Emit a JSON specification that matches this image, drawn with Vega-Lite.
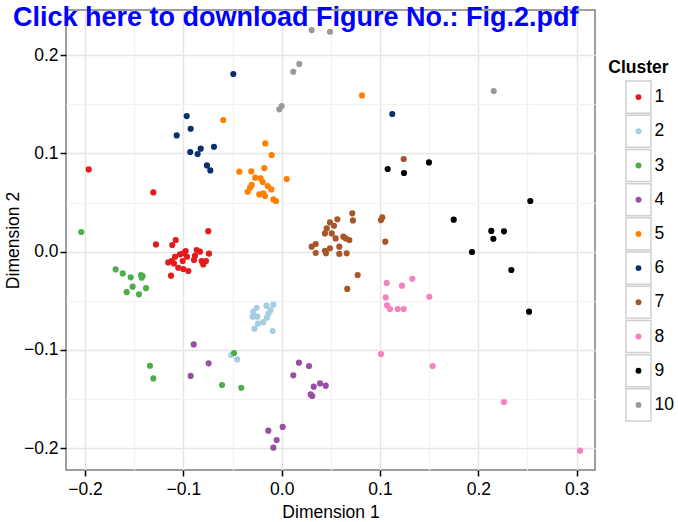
{
  "$schema": "https://vega.github.io/schema/vega-lite/v6.json",
  "autosize": {"type": "pad"},
  "padding": {"left": 3, "top": 4, "right": 0, "bottom": 0},
  "title": {"text": "Click here to download Figure No.: Fig.2.pdf", "anchor": "start", "frame": "group", "dx": -53, "offset": -44, "baseline": "alphabetic", "fontSize": 27, "fontWeight": "bold", "color": "#0000FF", "font": "Liberation Sans"},
  "config": {"font": "Liberation Sans", "view": {"stroke": null}},
  "spacing": 31,
  "bounds": "flush",
  "datasets": {
    "pts": [
      {"x": -0.1963, "y": 0.0837, "c": "1"}, {"x": -0.1306, "y": 0.0603, "c": "1"}, {"x": -0.0747, "y": 0.0209, "c": "1"},
      {"x": -0.1279, "y": 0.0074, "c": "1"}, {"x": -0.1078, "y": 0.0119, "c": "1"}, {"x": -0.1113, "y": 0.0068, "c": "1"},
      {"x": -0.1035, "y": -0.0027, "c": "1"}, {"x": -0.1001, "y": -0.0017, "c": "1"}, {"x": -0.0977, "y": 0.0007, "c": "1"},
      {"x": -0.0963, "y": -0.0051, "c": "1"}, {"x": -0.0865, "y": 0.0017, "c": "1"}, {"x": -0.0831, "y": 0.0, "c": "1"},
      {"x": -0.074, "y": -0.002, "c": "1"}, {"x": -0.0882, "y": -0.0041, "c": "1"}, {"x": -0.0892, "y": -0.0084, "c": "1"},
      {"x": -0.0814, "y": -0.0095, "c": "1"}, {"x": -0.077, "y": -0.0095, "c": "1"}, {"x": -0.0798, "y": -0.0129, "c": "1"},
      {"x": -0.1085, "y": -0.0051, "c": "1"}, {"x": -0.1119, "y": -0.0095, "c": "1"}, {"x": -0.1154, "y": -0.0109, "c": "1"},
      {"x": -0.1096, "y": -0.0119, "c": "1"}, {"x": -0.1007, "y": -0.0095, "c": "1"}, {"x": -0.1052, "y": -0.0163, "c": "1"},
      {"x": -0.1001, "y": -0.0176, "c": "1"}, {"x": -0.095, "y": -0.0196, "c": "1"}, {"x": -0.1126, "y": -0.0244, "c": "1"},
      {"x": -0.0254, "y": -0.057, "c": "2"}, {"x": -0.0289, "y": -0.061, "c": "2"}, {"x": -0.0295, "y": -0.0661, "c": "2"},
      {"x": -0.0248, "y": -0.0661, "c": "2"}, {"x": -0.0155, "y": -0.0549, "c": "2"}, {"x": -0.0085, "y": -0.0539, "c": "2"},
      {"x": -0.0114, "y": -0.0595, "c": "2"}, {"x": -0.0136, "y": -0.0631, "c": "2"}, {"x": -0.015, "y": -0.0671, "c": "2"},
      {"x": -0.0187, "y": -0.0717, "c": "2"}, {"x": -0.0241, "y": -0.0732, "c": "2"}, {"x": -0.0277, "y": -0.0783, "c": "2"},
      {"x": -0.0092, "y": -0.0807, "c": "2"}, {"x": -0.0513, "y": -0.1051, "c": "2"}, {"x": -0.0452, "y": -0.1096, "c": "2"},
      {"x": -0.2039, "y": 0.02, "c": "3"}, {"x": -0.1689, "y": -0.018, "c": "3"}, {"x": -0.1617, "y": -0.0221, "c": "3"},
      {"x": -0.1536, "y": -0.0261, "c": "3"}, {"x": -0.1431, "y": -0.0237, "c": "3"}, {"x": -0.1414, "y": -0.0247, "c": "3"},
      {"x": -0.1424, "y": -0.0264, "c": "3"}, {"x": -0.1516, "y": -0.0356, "c": "3"}, {"x": -0.1577, "y": -0.0412, "c": "3"},
      {"x": -0.1452, "y": -0.0434, "c": "3"}, {"x": -0.138, "y": -0.0371, "c": "3"}, {"x": -0.134, "y": -0.116, "c": "3"},
      {"x": -0.1306, "y": -0.1289, "c": "3"}, {"x": -0.0607, "y": -0.1356, "c": "3"}, {"x": -0.0411, "y": -0.1384, "c": "3"},
      {"x": -0.0485, "y": -0.1031, "c": "3"},
      {"x": -0.0895, "y": -0.0943, "c": "4"}, {"x": -0.0743, "y": -0.1136, "c": "4"}, {"x": -0.0926, "y": -0.1264, "c": "4"},
      {"x": 0.0176, "y": -0.1129, "c": "4"}, {"x": 0.0278, "y": -0.1163, "c": "4"}, {"x": 0.0118, "y": -0.1258, "c": "4"},
      {"x": 0.039, "y": -0.134, "c": "4"}, {"x": 0.0448, "y": -0.1363, "c": "4"}, {"x": 0.0326, "y": -0.1373, "c": "4"},
      {"x": 0.0295, "y": -0.1452, "c": "4"}, {"x": 0.0311, "y": -0.1468, "c": "4"}, {"x": 0.001, "y": -0.1783, "c": "4"},
      {"x": -0.0136, "y": -0.1821, "c": "4"}, {"x": -0.0051, "y": -0.1916, "c": "4"}, {"x": -0.0085, "y": -0.1994, "c": "4"},
      {"x": -0.0594, "y": 0.134, "c": "5"}, {"x": -0.0167, "y": 0.1102, "c": "5"}, {"x": -0.0102, "y": 0.0984, "c": "5"},
      {"x": -0.0177, "y": 0.0851, "c": "5"}, {"x": -0.0431, "y": 0.0814, "c": "5"}, {"x": -0.0309, "y": 0.0817, "c": "5"},
      {"x": 0.0051, "y": 0.074, "c": "5"}, {"x": -0.0269, "y": 0.0753, "c": "5"}, {"x": -0.0214, "y": 0.0746, "c": "5"},
      {"x": -0.0193, "y": 0.0709, "c": "5"}, {"x": -0.0142, "y": 0.0668, "c": "5"}, {"x": -0.0106, "y": 0.0634, "c": "5"},
      {"x": -0.0305, "y": 0.0679, "c": "5"}, {"x": -0.0322, "y": 0.0651, "c": "5"}, {"x": -0.0346, "y": 0.061, "c": "5"},
      {"x": -0.0228, "y": 0.0583, "c": "5"}, {"x": -0.0187, "y": 0.0593, "c": "5"}, {"x": -0.017, "y": 0.0567, "c": "5"},
      {"x": -0.0085, "y": 0.0532, "c": "5"}, {"x": -0.0058, "y": 0.0516, "c": "5"}, {"x": 0.0817, "y": 0.159, "c": "5"},
      {"x": -0.0492, "y": 0.1808, "c": "6"}, {"x": -0.0966, "y": 0.138, "c": "6"}, {"x": -0.0926, "y": 0.1251, "c": "6"},
      {"x": -0.1068, "y": 0.1183, "c": "6"}, {"x": -0.093, "y": 0.1014, "c": "6"}, {"x": -0.0824, "y": 0.1048, "c": "6"},
      {"x": -0.0855, "y": 0.0994, "c": "6"}, {"x": -0.0689, "y": 0.1068, "c": "6"}, {"x": -0.076, "y": 0.0878, "c": "6"},
      {"x": -0.0726, "y": 0.0827, "c": "6"}, {"x": 0.1125, "y": 0.1401, "c": "6"},
      {"x": 0.1241, "y": 0.0943, "c": "7"}, {"x": 0.0718, "y": 0.039, "c": "7"}, {"x": 0.0725, "y": 0.0318, "c": "7"},
      {"x": 0.1023, "y": 0.0349, "c": "7"}, {"x": 0.101, "y": 0.0322, "c": "7"}, {"x": 0.1054, "y": 0.0102, "c": "7"},
      {"x": 0.0566, "y": 0.0329, "c": "7"}, {"x": 0.0491, "y": 0.0298, "c": "7"}, {"x": 0.0532, "y": 0.0264, "c": "7"},
      {"x": 0.0458, "y": 0.0237, "c": "7"}, {"x": 0.044, "y": 0.0186, "c": "7"}, {"x": 0.0509, "y": 0.0186, "c": "7"},
      {"x": 0.0549, "y": 0.0135, "c": "7"}, {"x": 0.0627, "y": 0.0153, "c": "7"}, {"x": 0.0651, "y": 0.0135, "c": "7"},
      {"x": 0.0688, "y": 0.0119, "c": "7"}, {"x": 0.0586, "y": 0.0051, "c": "7"}, {"x": 0.0346, "y": 0.0078, "c": "7"},
      {"x": 0.0305, "y": 0.0051, "c": "7"}, {"x": 0.0346, "y": -0.0013, "c": "7"}, {"x": 0.044, "y": 0.001, "c": "7"},
      {"x": 0.0491, "y": 0.0034, "c": "7"}, {"x": 0.0451, "y": -0.0017, "c": "7"}, {"x": 0.0586, "y": -0.0023, "c": "7"},
      {"x": 0.0661, "y": -0.0017, "c": "7"}, {"x": 0.0773, "y": -0.0237, "c": "7"}, {"x": 0.0667, "y": -0.0379, "c": "7"},
      {"x": 0.1068, "y": -0.0318, "c": "8"}, {"x": 0.1224, "y": -0.0346, "c": "8"}, {"x": 0.1329, "y": -0.0275, "c": "8"},
      {"x": 0.1058, "y": -0.0465, "c": "8"}, {"x": 0.1502, "y": -0.0458, "c": "8"}, {"x": 0.1071, "y": -0.0546, "c": "8"},
      {"x": 0.1102, "y": -0.0583, "c": "8"}, {"x": 0.118, "y": -0.0583, "c": "8"}, {"x": 0.1241, "y": -0.0583, "c": "8"},
      {"x": 0.101, "y": -0.1041, "c": "8"}, {"x": 0.1536, "y": -0.1163, "c": "8"}, {"x": 0.2261, "y": -0.1529, "c": "8"},
      {"x": 0.3035, "y": -0.2024, "c": "8"},
      {"x": 0.1078, "y": 0.0841, "c": "9"}, {"x": 0.1244, "y": 0.0801, "c": "9"}, {"x": 0.1498, "y": 0.0908, "c": "9"},
      {"x": 0.2529, "y": 0.0516, "c": "9"}, {"x": 0.175, "y": 0.0326, "c": "9"}, {"x": 0.2132, "y": 0.0211, "c": "9"},
      {"x": 0.2261, "y": 0.0207, "c": "9"}, {"x": 0.2153, "y": 0.0132, "c": "9"}, {"x": 0.1936, "y": -0.0003, "c": "9"},
      {"x": 0.2336, "y": -0.0186, "c": "9"}, {"x": 0.2516, "y": -0.061, "c": "9"},
      {"x": 0.0305, "y": 0.2255, "c": "10"}, {"x": 0.0491, "y": 0.2238, "c": "10"}, {"x": 0.0179, "y": 0.1909, "c": "10"},
      {"x": 0.0118, "y": 0.1831, "c": "10"}, {"x": 0.0, "y": 0.1482, "c": "10"}, {"x": -0.0024, "y": 0.1448, "c": "10"},
      {"x": 0.2157, "y": 0.1635, "c": "10"}
    ],
    "cl": [
      {"c": "1"}, {"c": "2"}, {"c": "3"}, {"c": "4"}, {"c": "5"}, {"c": "6"}, {"c": "7"}, {"c": "8"}, {"c": "9"}, {"c": "10"}
    ],
    "hdr": [{"t": "Cluster"}]
  },
  "hconcat": [
    {
      "width": 529,
      "height": 460,
      "data": {"name": "pts"},
      "view": {"stroke": "#7F7F7F", "strokeWidth": 1.5},
      "layer": [
        {
          "mark": {"type": "point", "opacity": 0},
          "encoding": {
            "x": {"field": "x", "type": "quantitative", "scale": {"domain": [-0.2194, 0.3187], "nice": false, "zero": false},
              "axis": {"orient": "top", "values": [-0.15, -0.05, 0.05, 0.15, 0.25], "grid": true, "gridColor": "#F2F2F2", "gridWidth": 1.2, "labels": false, "ticks": false, "domain": false, "title": null, "minExtent": 0, "maxExtent": 0}},
            "y": {"field": "y", "type": "quantitative", "scale": {"domain": [-0.2221, 0.2459], "nice": false, "zero": false},
              "axis": {"orient": "right", "values": [-0.15, -0.05, 0.05, 0.15], "grid": true, "gridColor": "#F2F2F2", "gridWidth": 1.2, "labels": false, "ticks": false, "domain": false, "title": null, "minExtent": 0, "maxExtent": 0}}
          }
        },
        {
          "mark": {"type": "circle", "size": 38, "opacity": 1},
          "encoding": {
            "x": {"field": "x", "type": "quantitative", "scale": {"domain": [-0.2194, 0.3187], "nice": false, "zero": false},
              "axis": {"orient": "bottom", "values": [-0.2, -0.1, 0, 0.1, 0.2, 0.3], "format": ".1f", "grid": true, "gridColor": "#E5E5E5", "gridWidth": 1.5, "domain": false, "ticks": true, "tickColor": "#000000", "tickSize": 6, "tickWidth": 1.5, "labelFontSize": 17.5, "labelColor": "#000000", "labelPadding": 4, "title": "Dimension 1", "titleFontSize": 17.5, "titleFontWeight": "normal", "titleColor": "#000000", "titlePadding": 6}},
            "y": {"field": "y", "type": "quantitative", "scale": {"domain": [-0.2221, 0.2459], "nice": false, "zero": false},
              "axis": {"orient": "left", "values": [-0.2, -0.1, 0, 0.1, 0.2], "format": ".1f", "grid": true, "gridColor": "#E5E5E5", "gridWidth": 1.5, "domain": false, "ticks": true, "tickColor": "#000000", "tickSize": 6, "tickWidth": 1.5, "labelFontSize": 17.5, "labelColor": "#000000", "labelPadding": 2, "title": "Dimension 2", "titleFontSize": 17.5, "titleFontWeight": "normal", "titleColor": "#000000", "titlePadding": 1}},
            "color": {"field": "c", "type": "nominal",
              "scale": {"domain": ["1", "2", "3", "4", "5", "6", "7", "8", "9", "10"], "range": ["#E41A1C", "#A6CEE3", "#4DAF4A", "#984EA3", "#FF7F00", "#08306B", "#A65628", "#F781BF", "#000000", "#999999"]},
              "legend": null}
          }
        }
      ],
      "resolve": {"axis": {"x": "independent", "y": "independent"}}
    },
    {
      "spacing": 10,
      "bounds": "flush",
      "vconcat": [
        {
          "width": 25,
          "height": 60,
          "data": {"name": "hdr"},
          "view": {"stroke": null},
          "mark": {"type": "text", "fontSize": 17.5, "fontWeight": "bold", "color": "#000000", "dy": 28, "align": "center", "baseline": "middle"},
          "encoding": {"text": {"field": "t", "type": "nominal"}}
        },
        {
          "width": 25,
          "height": 342,
          "data": {"name": "cl"},
          "view": {"stroke": null},
          "encoding": {
            "y": {"field": "c", "type": "ordinal",
              "scale": {"domain": ["1", "2", "3", "4", "5", "6", "7", "8", "9", "10"], "paddingInner": 0.06, "paddingOuter": 0.03},
              "axis": {"orient": "right", "domain": false, "ticks": false, "grid": false, "labelFontSize": 17.5, "labelColor": "#000000", "labelPadding": 3, "title": null}}
          },
          "layer": [
            {"mark": {"type": "rect", "fill": "#FFFFFF", "stroke": "#D0D0D0", "strokeWidth": 1.5}},
            {"mark": {"type": "circle", "size": 35, "opacity": 1},
              "encoding": {"color": {"field": "c", "type": "nominal",
                "scale": {"domain": ["1", "2", "3", "4", "5", "6", "7", "8", "9", "10"], "range": ["#E41A1C", "#A6CEE3", "#4DAF4A", "#984EA3", "#FF7F00", "#08306B", "#A65628", "#F781BF", "#000000", "#999999"]},
                "legend": null}}}
          ]
        }
      ]
    }
  ]
}
